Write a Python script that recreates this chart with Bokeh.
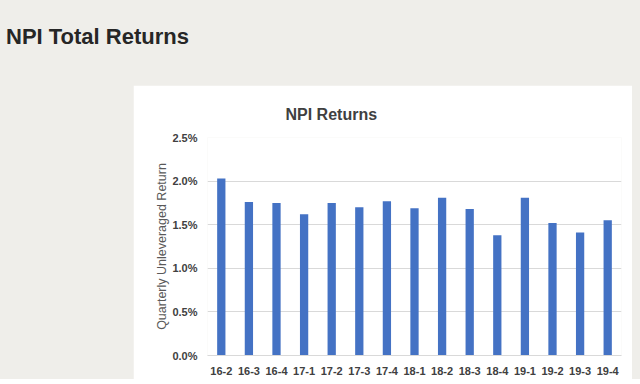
from bokeh.plotting import figure
from bokeh.models import (ColumnDataSource, FixedTicker, PrintfTickFormatter,
                          Range1d, Title, Div, Spacer)
from bokeh.layouts import column, row
from bokeh.embed import file_html
from bokeh.resources import INLINE

# ---- data ----
quarters = ["16-2", "16-3", "16-4", "17-1", "17-2", "17-3", "17-4", "18-1",
            "18-2", "18-3", "18-4", "19-1", "19-2", "19-3", "19-4"]
returns = [2.03, 1.76, 1.75, 1.62, 1.75, 1.70, 1.77, 1.69,
           1.81, 1.68, 1.38, 1.81, 1.52, 1.41, 1.55]
y_ticks = [0.0, 0.5, 1.0, 1.5, 2.0, 2.5]
page_title = "NPI Total Returns"
chart_title = "NPI Returns"
y_label = "Quarterly Unleveraged Return"

FONT = "Liberation Sans"
TXT = "#404040"
BG = "#efeeea"

idx = list(range(len(quarters)))
src = ColumnDataSource(dict(x=idx, top=returns, q=quarters))

p = figure(width=499, height=294, output_backend="svg", toolbar_location=None,
           x_range=Range1d(-0.5, len(quarters) - 0.5), y_range=Range1d(0, 2.5),
           min_border_left=74, min_border_right=11,
           min_border_top=52, min_border_bottom=24)
p.border_fill_color = "white"
p.background_fill_color = "white"
p.outline_line_color = None

p.vbar(x="x", top="top", width=0.3, source=src, fill_color="#4472C4",
       line_color=None)

# grid
p.xgrid.grid_line_color = None
p.ygrid.ticker = FixedTicker(ticks=y_ticks)
p.ygrid.grid_line_color = "#d9d9d9"
p.ygrid.grid_line_width = 1

# y axis
p.yaxis.ticker = FixedTicker(ticks=y_ticks)
p.yaxis.formatter = PrintfTickFormatter(format="%.1f%%")
p.yaxis.axis_line_color = None
p.yaxis.major_tick_line_color = None
p.yaxis.minor_tick_line_color = None
p.yaxis.major_tick_out = 0
p.yaxis.major_tick_in = 0
p.yaxis.major_label_standoff = 10
p.yaxis.major_label_text_font = FONT
p.yaxis.major_label_text_font_size = "11px"
p.yaxis.major_label_text_font_style = "bold"
p.yaxis.major_label_text_color = TXT
p.yaxis.axis_label = y_label
p.yaxis.axis_label_text_font = FONT
p.yaxis.axis_label_text_font_size = "12.5px"
p.yaxis.axis_label_text_font_style = "normal"
p.yaxis.axis_label_text_color = "#595959"
p.yaxis.axis_label_standoff = 0

# x axis
p.xaxis.ticker = FixedTicker(ticks=idx)
p.xaxis.major_label_overrides = {i: q for i, q in zip(idx, quarters)}
p.xaxis.axis_line_color = "#d9d9d9"
p.xaxis.major_tick_line_color = None
p.xaxis.minor_tick_line_color = None
p.xaxis.major_tick_out = 0
p.xaxis.major_tick_in = 0
p.xaxis.major_label_standoff = 11
p.xaxis.major_label_text_font = FONT
p.xaxis.major_label_text_font_size = "11px"
p.xaxis.major_label_text_font_style = "bold"
p.xaxis.major_label_text_color = TXT

# chart title
p.add_layout(Title(text=chart_title, align="left", offset=78, standoff=30,
                   text_font=FONT, text_font_size="16px",
                   text_font_style="bold", text_color=TXT), "above")

head = Div(text=('<div style="margin:19px 0 0 1px;font-family:\'Liberation Sans\';'
                 'font-size:22px;font-weight:bold;color:#262626;line-height:normal">'
                 + page_title + '</div>'),
           width=632, height=75)

layout = column(head, row(Spacer(width=133, height=294), p),
                styles={"background-color": BG})

open("out.html", "w").write(file_html(layout, INLINE))
